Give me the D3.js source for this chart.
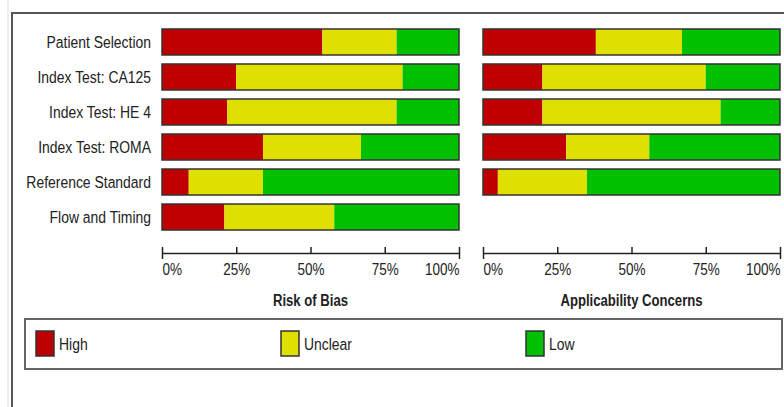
<!DOCTYPE html>
<html>
<head>
<meta charset="utf-8">
<script src="https://cdn.jsdelivr.net/npm/d3@7"></script>
<style>
  body { margin: 0; background: #fff; }
  text { font-family: "Liberation Sans", Arial, sans-serif; fill: #222; }
</style>
</head>
<body>
<div id="chart"></div>
<script>
// domains and values (percent of studies)
const categories = ["Patient Selection", "Index Test: CA125", "Index Test: HE 4",
    "Index Test: ROMA", "Reference Standard", "Flow and Timing"]
const levels = ["High", "Unclear", "Low"]
const colors = ["#c00000", "#e0e000", "#00c000"]
const ticks = [0, 25, 50, 75, 100]

const biasHigh    = [54, 25, 22, 34, 9, 21]
const biasUnclear = [25, 56, 57, 33, 25, 37]
const biasLow     = [21, 19, 21, 33, 66, 42]

// no applicability for flow and timing
const applCats    = categories.slice(0, 5)
const applHigh    = [38, 20, 20, 28, 5]
const applUnclear = [29, 55, 60, 28, 30]
const applLow     = [33, 25, 20, 44, 65]

const width = 784, height = 407
// narrow font look (no Arial Narrow installed)
const squeeze = "scale(0.82,1)"

const svg = d3.select("#chart")
    .append("svg")
    .attr("width", width)
    .attr("height", height)

// outer frame
svg.append("line").attr("x1", 8).attr("x2", 8).attr("y1", 0).attr("y2", height)
    .attr("stroke", "#ddd").attr("stroke-width", 1)
svg.append("path").attr("d", `M12,${height}V13H${width}`)
    .attr("fill", "none").attr("stroke", "#555").attr("stroke-width", 2)

const yScale = d3.scaleBand()
    .domain(categories)
    .range([24.5, 234.5])
    .paddingInner(0.257)
    .paddingOuter(0.128)

// row labels
svg.append("g")
    .selectAll("text")
    .data(categories)
    .join("text")
    .attr("transform", d => `translate(151,${yScale(d) + yScale.bandwidth() / 2}) ${squeeze}`)
    .attr("dy", "0.36em")
    .attr("text-anchor", "end")
    .style("font-size", "17px")
    .text(d => d)

function panel(x0, x1, cats, high, unclear, low, title) {
    const xScale = d3.scaleLinear().domain([0, 100]).range([x0, x1])

    const rows = cats.map((c, i) => {
        const v = [high[i], unclear[i], low[i]]
        const tot = d3.sum(v)
        let acc = 0
        return v.map((val, j) => {
            const s = acc / tot * 100
            acc += val
            return {cat: c, level: j, start: s, end: acc / tot * 100}
        })
    }).flat()

    const g = svg.append("g")
    g.selectAll("rect.seg")
        .data(rows)
        .join("rect")
        .attr("class", "seg")
        .attr("x", d => xScale(d.start))
        .attr("y", d => yScale(d.cat))
        .attr("width", d => xScale(d.end) - xScale(d.start))
        .attr("height", yScale.bandwidth())
        .attr("fill", d => colors[d.level])

    g.selectAll("rect.box")
        .data(cats)
        .join("rect")
        .attr("class", "box")
        .attr("x", xScale(0))
        .attr("y", d => yScale(d))
        .attr("width", xScale(100) - xScale(0))
        .attr("height", yScale.bandwidth())
        .attr("fill", "none")
        .attr("stroke", "#333")
        .attr("stroke-width", 1.5)

    const axis = d3.axisBottom(xScale)
        .tickValues(ticks)
        .tickFormat(d => d + "%")
        .tickSize(-6)
        .tickSizeOuter(0)
        .tickPadding(10)

    const ax = svg.append("g")
        .attr("transform", "translate(0,253)")
        .call(axis)
    ax.select(".domain").attr("stroke", "#222").attr("stroke-width", 1.5)
    ax.selectAll(".tick line").attr("stroke", "#222").attr("stroke-width", 1.5)
    ax.selectAll(".tick line").filter(d => d === 0 || d === 100)
        .attr("y1", 6).attr("y2", -6)
    ax.selectAll(".tick text")
        .style("font-size", "16.5px")
        .attr("fill", "#222")
        .attr("transform", squeeze)
        .attr("text-anchor", d => d === 0 ? "start" : d === 100 ? "end" : "middle")

    svg.append("text")
        .attr("transform", `translate(${(x0 + x1) / 2},306) ${squeeze}`)
        .attr("text-anchor", "middle")
        .style("font-size", "16px")
        .style("font-weight", "bold")
        .text(title)
}

panel(162, 459, categories, biasHigh, biasUnclear, biasLow, "Risk of Bias")
panel(483, 780, applCats, applHigh, applUnclear, applLow, "Applicability Concerns")

// legend
svg.append("rect")
    .attr("x", 25).attr("y", 319)
    .attr("width", 757).attr("height", 50)
    .attr("fill", "none").attr("stroke", "#666").attr("stroke-width", 2)

const legX = [36, 281, 526]
const lg = svg.append("g")
    .selectAll("g")
    .data(levels)
    .join("g")
    .attr("transform", (d, i) => `translate(${legX[i]},331)`)
lg.append("rect")
    .attr("width", 18).attr("height", 25)
    .attr("fill", (d, i) => colors[i])
    .attr("stroke", "#333").attr("stroke-width", 1.5)
lg.append("text")
    .attr("transform", `translate(23,13) ${squeeze}`)
    .attr("dy", "0.36em")
    .style("font-size", "17px")
    .text(d => d)
</script>
</body>
</html>
